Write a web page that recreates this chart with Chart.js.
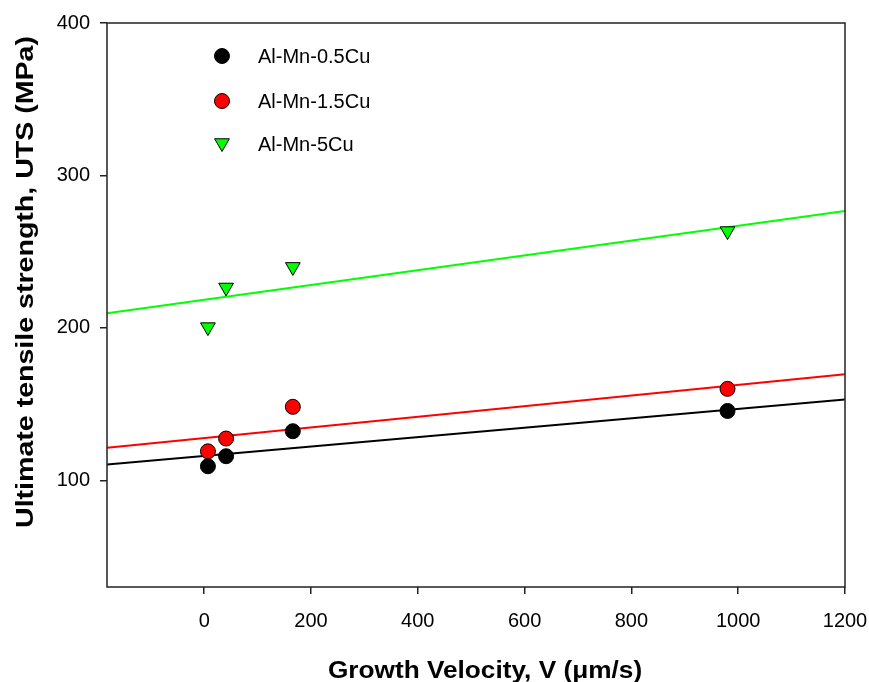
<!DOCTYPE html>
<html>
<head>
<meta charset="utf-8">
<script src="https://cdn.jsdelivr.net/npm/chart.js@4.4.1/dist/chart.umd.min.js"></script>
<style>
  html, body { margin: 0; padding: 0; background: #fff; }
  #wrap { width: 869px; height: 682px; }
</style>
</head>
<body>
<div id="wrap"><canvas id="c" width="869" height="682"></canvas></div>
<script>
// ---- data ----
const velocity = [7, 41, 166, 980];                 // growth velocity V (µm/s)
const utsAlMn05Cu = [109.2, 115.8, 132.2, 145.5];   // MPa
const utsAlMn15Cu = [119.0, 127.4, 148.2, 160.0];   // MPa
const utsAlMn5Cu  = [200.5, 226.5, 240.0, 263.5];   // MPa
const fitX   = [-182, 1200];
const fit05  = [110.3, 153.0];
const fit15  = [121.3, 169.5];
const fit5   = [209.5, 276.7];
const seriesNames = ['Al-Mn-0.5Cu', 'Al-Mn-1.5Cu', 'Al-Mn-5Cu'];
const xTicks = [0, 200, 400, 600, 800, 1000, 1200];
const yTicks = [100, 200, 300, 400];
const xTitle = 'Growth Velocity, V (\u03bcm/s)';
const yTitle = 'Ultimate tensile strength, UTS (MPa)';

const pts = (xs, ys) => xs.map((x, i) => ({ x: x, y: ys[i] }));
const FONT = '"Liberation Sans", Arial, sans-serif';
const AXIS = '#222';

const markerStyles = [
  { pointStyle: 'circle', radius: 7.5, rotation: 0, color: '#000000' },
  { pointStyle: 'circle', radius: 7.5, rotation: 0, color: '#ff0000' },
  { pointStyle: 'triangle', radius: 8.5, rotation: 180, color: '#00ff00' }
];

const frame = {
  id: 'frame',
  afterDatasetsDraw(chart) {
    const { ctx, chartArea: a } = chart;
    ctx.save();
    ctx.strokeStyle = AXIS;
    ctx.lineWidth = 1.5;
    ctx.strokeRect(a.left, a.top, a.right - a.left, a.bottom - a.top);
    ctx.restore();
  }
};

const legendInside = {
  id: 'legendInside',
  afterDraw(chart) {
    const { ctx } = chart;
    const rows = [56, 101, 144];
    ctx.save();
    seriesNames.forEach((name, i) => {
      const m = markerStyles[i];
      ctx.fillStyle = m.color;
      ctx.strokeStyle = '#000';
      ctx.lineWidth = 1;
      Chart.helpers.drawPoint(ctx, { pointStyle: m.pointStyle, radius: m.radius, rotation: m.rotation, borderWidth: 1 }, 222, rows[i] + (m.pointStyle === 'triangle' ? -1 : 0));
      ctx.fillStyle = '#000';
      ctx.font = '20px ' + FONT;
      ctx.textAlign = 'left';
      ctx.textBaseline = 'middle';
      ctx.fillText(name, 258, rows[i] + 1);
    });
    ctx.restore();
  }
};

// axis titles, drawn slightly stretched along their length as in the reference
const axisTitles = {
  id: 'axisTitles',
  afterDraw(chart) {
    const { ctx } = chart;
    ctx.save();
    ctx.fillStyle = '#000';
    ctx.textAlign = 'center';
    ctx.textBaseline = 'middle';
    ctx.font = 'bold 23px ' + FONT;
    ctx.translate(485, 672);
    ctx.scale(1.14, 1);
    ctx.fillText(xTitle, 0, 0);
    ctx.restore();

    ctx.save();
    ctx.fillStyle = '#000';
    ctx.textAlign = 'center';
    ctx.textBaseline = 'middle';
    ctx.font = 'bold 24px ' + FONT;
    ctx.translate(26, 282);
    ctx.rotate(-Math.PI / 2);
    ctx.scale(1.19, 1);
    ctx.fillText(yTitle, 0, 0);
    ctx.restore();
  }
};

const scatterSet = (label, data, i, order) => ({
  type: 'scatter', label, data, order,
  pointStyle: markerStyles[i].pointStyle,
  rotation: markerStyles[i].rotation,
  pointRadius: markerStyles[i].radius,
  pointHoverRadius: markerStyles[i].radius,
  backgroundColor: markerStyles[i].color,
  borderColor: '#000',
  borderWidth: 1,
  showLine: false
});
const lineSet = (label, data, color) => ({
  type: 'line', label, data, order: 5,
  borderColor: color, borderWidth: 2, pointRadius: 0, fill: false, tension: 0
});

new Chart(document.getElementById('c'), {
  data: {
    datasets: [
      scatterSet(seriesNames[0], pts(velocity, utsAlMn05Cu), 0, 3),
      scatterSet(seriesNames[1], pts(velocity, utsAlMn15Cu), 1, 2),
      scatterSet(seriesNames[2], pts(velocity, utsAlMn5Cu), 2, 1),
      lineSet('fit 0.5Cu', pts(fitX, fit05), '#000000'),
      lineSet('fit 1.5Cu', pts(fitX, fit15), '#ff0000'),
      lineSet('fit 5Cu', pts(fitX, fit5), '#00ff00')
    ]
  },
  options: {
    responsive: false,
    animation: false,
    devicePixelRatio: 1,
    layout: { padding: { top: 23, right: 24, left: 0, bottom: 0 } },
    plugins: { legend: { display: false }, tooltip: { enabled: false } },
    scales: {
      x: {
        type: 'linear', min: -182, max: 1200,
        afterFit(s) { s.height = 95; s.paddingLeft = 0; s.paddingRight = 0; },
        afterBuildTicks(s) { s.ticks = xTicks.map(v => ({ value: v })); },
        grid: { drawOnChartArea: false, drawTicks: true, tickLength: 7, color: AXIS, lineWidth: 1.5 },
        border: { display: false },
        ticks: { font: { family: FONT, size: 20 }, color: '#000', padding: 15, maxRotation: 0, callback: v => String(v) },
        title: { display: false }
      },
      y: {
        type: 'linear', min: 30, max: 400,
        afterFit(s) { s.width = 107; s.paddingTop = 0; s.paddingBottom = 0; },
        afterBuildTicks(s) { s.ticks = yTicks.map(v => ({ value: v })); },
        grid: { drawOnChartArea: false, drawTicks: true, tickLength: 7, color: AXIS, lineWidth: 1.5 },
        border: { display: false },
        ticks: { font: { family: FONT, size: 20 }, color: '#000', padding: 10, callback: v => String(v) },
        title: { display: false }
      }
    }
  },
  plugins: [frame, legendInside, axisTitles]
});
</script>
</body>
</html>
